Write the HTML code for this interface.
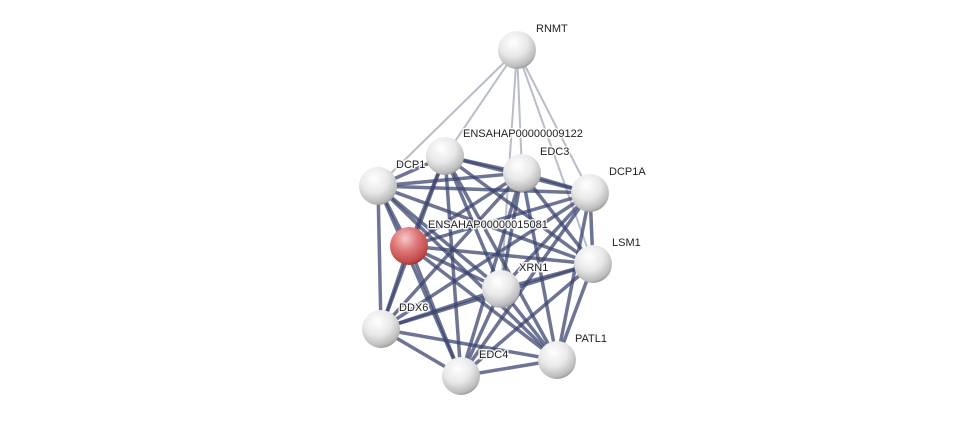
<!DOCTYPE html>
<html><head><meta charset="utf-8"><style>
html,body{margin:0;padding:0;background:#fff;}
svg{display:block}
text{font-family:"Liberation Sans",Arial,sans-serif;font-size:11px;fill:#222;stroke:#fff;stroke-width:3px;stroke-opacity:0.85;paint-order:stroke;stroke-linejoin:round;}
</style></head><body>
<svg width="975" height="421" viewBox="0 0 975 421" xmlns="http://www.w3.org/2000/svg">
<defs>
<radialGradient id="g" cx="0.4" cy="0.3" r="0.75">
<stop offset="0" stop-color="#ffffff"/><stop offset="0.5" stop-color="#e8e8e8"/><stop offset="0.85" stop-color="#bcbcbc"/><stop offset="1" stop-color="#8c8c8c"/></radialGradient>
<radialGradient id="r" cx="0.4" cy="0.3" r="0.75">
<stop offset="0" stop-color="#f6c8c8"/><stop offset="0.45" stop-color="#de7676"/><stop offset="0.85" stop-color="#c04848"/><stop offset="1" stop-color="#8a2a2a"/></radialGradient>
</defs>
<g stroke="#b8bccb" stroke-width="2">
<line x1="517" y1="50" x2="378" y2="186"/>
<line x1="517" y1="50" x2="445" y2="156"/>
<line x1="517" y1="50" x2="522" y2="173"/>
<line x1="517" y1="50" x2="590" y2="193"/>
<line x1="517" y1="50" x2="593" y2="264"/>
<line x1="517" y1="50" x2="501" y2="289"/>
</g>
<g stroke="#3e4670" stroke-opacity="0.75" stroke-width="3.5">
<line x1="445" y1="156" x2="522" y2="173"/>
<line x1="445" y1="156" x2="590" y2="193"/>
<line x1="445" y1="156" x2="378" y2="186"/>
<line x1="445" y1="156" x2="409" y2="246"/>
<line x1="445" y1="156" x2="593" y2="264"/>
<line x1="445" y1="156" x2="501" y2="289"/>
<line x1="445" y1="156" x2="381" y2="329"/>
<line x1="445" y1="156" x2="461" y2="376"/>
<line x1="445" y1="156" x2="557" y2="360"/>
<line x1="522" y1="173" x2="590" y2="193"/>
<line x1="522" y1="173" x2="378" y2="186"/>
<line x1="522" y1="173" x2="409" y2="246"/>
<line x1="522" y1="173" x2="593" y2="264"/>
<line x1="522" y1="173" x2="501" y2="289"/>
<line x1="522" y1="173" x2="381" y2="329"/>
<line x1="522" y1="173" x2="461" y2="376"/>
<line x1="522" y1="173" x2="557" y2="360"/>
<line x1="590" y1="193" x2="378" y2="186"/>
<line x1="590" y1="193" x2="409" y2="246"/>
<line x1="590" y1="193" x2="593" y2="264"/>
<line x1="590" y1="193" x2="501" y2="289"/>
<line x1="590" y1="193" x2="381" y2="329"/>
<line x1="590" y1="193" x2="461" y2="376"/>
<line x1="590" y1="193" x2="557" y2="360"/>
<line x1="378" y1="186" x2="409" y2="246"/>
<line x1="378" y1="186" x2="593" y2="264"/>
<line x1="378" y1="186" x2="501" y2="289"/>
<line x1="378" y1="186" x2="381" y2="329"/>
<line x1="378" y1="186" x2="461" y2="376"/>
<line x1="378" y1="186" x2="557" y2="360"/>
<line x1="409" y1="246" x2="593" y2="264"/>
<line x1="409" y1="246" x2="501" y2="289"/>
<line x1="409" y1="246" x2="381" y2="329"/>
<line x1="409" y1="246" x2="461" y2="376"/>
<line x1="409" y1="246" x2="557" y2="360"/>
<line x1="593" y1="264" x2="501" y2="289"/>
<line x1="593" y1="264" x2="381" y2="329"/>
<line x1="593" y1="264" x2="461" y2="376"/>
<line x1="593" y1="264" x2="557" y2="360"/>
<line x1="501" y1="289" x2="381" y2="329"/>
<line x1="501" y1="289" x2="461" y2="376"/>
<line x1="501" y1="289" x2="557" y2="360"/>
<line x1="381" y1="329" x2="461" y2="376"/>
<line x1="381" y1="329" x2="557" y2="360"/>
<line x1="461" y1="376" x2="557" y2="360"/>
</g>
<g>
<circle cx="517" cy="50" r="19" fill="url(#g)"/>
<circle cx="445" cy="156" r="19" fill="url(#g)"/>
<circle cx="522" cy="173" r="19" fill="url(#g)"/>
<circle cx="590" cy="193" r="19" fill="url(#g)"/>
<circle cx="378" cy="186" r="19" fill="url(#g)"/>
<circle cx="409" cy="246" r="19" fill="url(#r)"/>
<circle cx="593" cy="264" r="19" fill="url(#g)"/>
<circle cx="501" cy="289" r="19" fill="url(#g)"/>
<circle cx="381" cy="329" r="19" fill="url(#g)"/>
<circle cx="461" cy="376" r="19" fill="url(#g)"/>
<circle cx="557" cy="360" r="19" fill="url(#g)"/>
</g>
<text x="536" y="32">RNMT</text>
<text x="463" y="137">ENSAHAP00000009122</text>
<text x="540" y="155">EDC3</text>
<text x="609" y="175">DCP1A</text>
<text x="396" y="168">DCP1</text>
<text x="428" y="228">ENSAHAP00000015081</text>
<text x="612" y="246">LSM1</text>
<text x="519" y="271">XRN1</text>
<text x="399" y="311">DDX6</text>
<text x="479" y="358">EDC4</text>
<text x="575" y="342">PATL1</text>
</svg>
</body></html>
